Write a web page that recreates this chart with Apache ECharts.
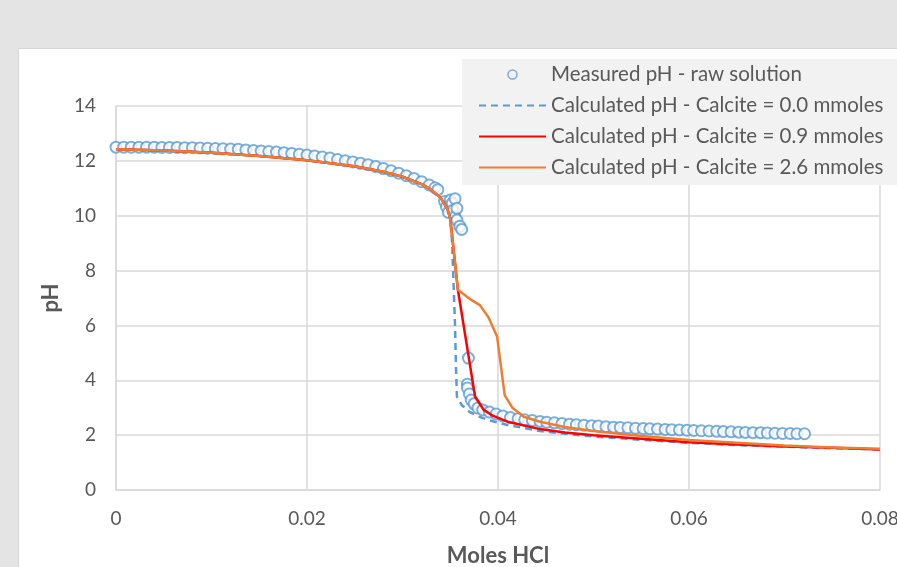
<!DOCTYPE html>
<html>
<head>
<meta charset="utf-8">
<script src="https://cdn.jsdelivr.net/npm/echarts@6/dist/echarts.min.js"></script>
<style>
  html, body { margin: 0; padding: 0; width: 897px; height: 567px; overflow: hidden; background: #e4e4e4; }
  #card { position: absolute; left: 18px; top: 48px; right: 0; bottom: 0; background: #ffffff; border-top: 1px solid #d6d6d6; border-left: 1px solid #d6d6d6; }
  #chart { position: absolute; left: 0; top: 0; width: 897px; height: 567px; }
</style>
</head>
<body>
<div id="card"></div>
<div id="chart"></div>
<script>
// Measured pH - raw solution: [moles HCl, pH]
const measured = [
  [0.0000,12.50],[0.0008,12.50],[0.0016,12.50],[0.0024,12.50],[0.0032,12.50],[0.0040,12.50],
  [0.0048,12.49],[0.0056,12.49],[0.0064,12.49],[0.0072,12.48],[0.0080,12.48],[0.0088,12.47],
  [0.0096,12.46],[0.0104,12.45],[0.0112,12.44],[0.0120,12.43],[0.0128,12.42],[0.0136,12.40],
  [0.0144,12.38],[0.0152,12.36],[0.0160,12.34],[0.0168,12.32],[0.0176,12.30],[0.0184,12.27],
  [0.0192,12.24],[0.0200,12.21],[0.0208,12.18],[0.0216,12.14],[0.0224,12.10],[0.0232,12.05],
  [0.0240,12.00],[0.0248,11.96],[0.0256,11.91],[0.0264,11.86],[0.0272,11.79],[0.0280,11.72],
  [0.0288,11.64],[0.0296,11.55],[0.0304,11.46],[0.0312,11.36],[0.0320,11.24],[0.0328,11.12],
  [0.0334,11.02],[0.0337,10.95],[0.0344,10.52],[0.0346,10.33],[0.0348,10.12],[0.0350,10.57],
  [0.0352,10.45],[0.0353,10.20],[0.0355,10.62],[0.0355,9.96],[0.0357,10.27],[0.0357,9.84],
  [0.0360,9.62],[0.0362,9.50],
  [0.0369,4.81],[0.0368,3.86],[0.0368,3.72],[0.0370,3.50],[0.0372,3.28],[0.0375,3.14],
  [0.0379,2.99],[0.0384,2.92],[0.0391,2.84],[0.0398,2.77],[0.0405,2.70],[0.0413,2.64],
  [0.0421,2.60],[0.0428,2.56],[0.0436,2.53],[0.0444,2.50],[0.0451,2.47],[0.0459,2.45],
  [0.0467,2.42],[0.0475,2.40],[0.0482,2.38],[0.0490,2.36],[0.0498,2.34],[0.0505,2.33],
  [0.0513,2.31],[0.0521,2.29],[0.0528,2.28],[0.0536,2.27],[0.0544,2.25],[0.0552,2.24],
  [0.0559,2.23],[0.0567,2.22],[0.0575,2.21],[0.0582,2.20],[0.0590,2.19],[0.0598,2.18],
  [0.0605,2.17],[0.0613,2.16],[0.0621,2.15],[0.0629,2.14],[0.0636,2.13],[0.0644,2.12],
  [0.0652,2.11],[0.0659,2.10],[0.0667,2.09],[0.0675,2.09],[0.0682,2.08],[0.0690,2.07],
  [0.0698,2.06],[0.0706,2.06],[0.0713,2.05],[0.0721,2.05]
];

// Calculated pH - Calcite = 0.0 mmoles
const calc00 = [
  [0,12.42],[0.005,12.38],[0.010,12.30],[0.015,12.18],[0.020,12.02],[0.025,11.80],
  [0.028,11.60],[0.030,11.42],[0.032,11.15],[0.033,10.95],[0.034,10.65],[0.0347,10.25],
  [0.0350,9.90],[0.0352,9.00],[0.0353,8.00],[0.0355,6.00],[0.0356,4.50],[0.0357,3.40],
  [0.0362,3.10],[0.0370,2.85],[0.0380,2.68],[0.0390,2.55],[0.0410,2.37],[0.0444,2.15],
  [0.0470,2.05],[0.0500,1.95],[0.0550,1.83],[0.0600,1.72],[0.0650,1.64],[0.0700,1.58],
  [0.0750,1.52],[0.0800,1.48]
];

// Calculated pH - Calcite = 0.9 mmoles
const calc09 = [
  [0,12.42],[0.005,12.38],[0.010,12.30],[0.015,12.18],[0.020,12.02],[0.025,11.80],
  [0.028,11.60],[0.030,11.42],[0.032,11.15],[0.033,10.95],[0.034,10.65],[0.0347,10.25],
  [0.0350,9.90],[0.0358,7.30],[0.0376,3.40],[0.0385,2.92],[0.0395,2.70],[0.0410,2.49],
  [0.0444,2.22],[0.0470,2.10],[0.0500,2.00],[0.0550,1.87],[0.0600,1.74],[0.0650,1.66],
  [0.0700,1.59],[0.0750,1.54],[0.0800,1.48]
];

// Calculated pH - Calcite = 2.6 mmoles
const calc26 = [
  [0,12.42],[0.005,12.38],[0.010,12.30],[0.015,12.18],[0.020,12.02],[0.025,11.80],
  [0.028,11.60],[0.030,11.42],[0.032,11.15],[0.033,10.95],[0.034,10.65],[0.0347,10.25],
  [0.0350,9.90],[0.0358,7.30],[0.0372,6.93],[0.0381,6.74],[0.0390,6.30],[0.0399,5.60],
  [0.0407,3.46],[0.0415,3.00],[0.0427,2.67],[0.0444,2.49],[0.0470,2.30],[0.0500,2.15],
  [0.0550,1.97],[0.0600,1.82],[0.0650,1.72],[0.0700,1.62],[0.0750,1.55],[0.0800,1.50]
];

const seriesNames = [
  'Measured pH - raw solution',
  'Calculated pH - Calcite = 0.0 mmoles',
  'Calculated pH - Calcite = 0.9 mmoles',
  'Calculated pH - Calcite = 2.6 mmoles'
];

const xTicks = [0, 0.02, 0.04, 0.06, 0.08];
const yTicks = [0, 2, 4, 6, 8, 10, 12, 14];

const FONT = 'Lato';
const TXT = '#595959';
const GRID = '#d9d9d9';
const BLUE = '#5b9bd5';
const hideSym = { opacity: 0 };

const chart = echarts.init(document.getElementById('chart'), null, { renderer: 'canvas' });
chart.setOption({
  backgroundColor: 'transparent',
  animation: false,
  grid: { left: 116, top: 106, right: 17, bottom: 77, containLabel: false, outerBoundsMode: 'none' },
  legend: {
    orient: 'vertical',
    left: 462, top: 59,
    backgroundColor: '#f2f2f2',
    padding: [5, 30, 7, 16],
    itemWidth: 67, itemHeight: 14, itemGap: 10,
    textStyle: { fontFamily: FONT, fontSize: 20.5, color: TXT, lineHeight: 21 },
    data: [
      { name: seriesNames[0], icon: 'path://M0,0M67,14M29,7A4.5,4.5,0,1,1,38,7A4.5,4.5,0,1,1,29,7Z',
        itemStyle: { color: 'rgba(0,0,0,0)', borderColor: BLUE, borderWidth: 1.5 } },
      { name: seriesNames[1], itemStyle: hideSym },
      { name: seriesNames[2], itemStyle: hideSym },
      { name: seriesNames[3], itemStyle: hideSym }
    ]
  },
  xAxis: {
    type: 'value', min: xTicks[0], max: xTicks[xTicks.length - 1], interval: 0.02,
    name: 'Moles HCl', nameLocation: 'middle', nameGap: 55,
    nameTextStyle: { fontFamily: FONT, fontSize: 22, fontWeight: 'bold', color: TXT },
    axisLine: { show: true, lineStyle: { color: GRID, width: 1.5 } },
    axisTick: { show: false },
    axisLabel: {
      fontFamily: FONT, fontSize: 19, color: TXT, margin: 19,
      formatter: v => (v === 0 ? '0' : v.toFixed(2))
    },
    splitLine: { show: true, lineStyle: { color: GRID, width: 1.5 } }
  },
  yAxis: {
    type: 'value', min: yTicks[0], max: yTicks[yTicks.length - 1], interval: 2,
    name: 'pH', nameLocation: 'middle', nameGap: 54, nameRotate: 90,
    nameTextStyle: { fontFamily: FONT, fontSize: 22, fontWeight: 'bold', color: TXT },
    axisLine: { show: true, lineStyle: { color: GRID, width: 1.5 } },
    axisTick: { show: false },
    axisLabel: { fontFamily: FONT, fontSize: 19, color: TXT, margin: 20 },
    splitLine: { show: true, lineStyle: { color: GRID, width: 1.5 } }
  },
  series: [
    {
      name: seriesNames[0], type: 'scatter', data: measured,
      symbol: 'emptyCircle', symbolSize: 11,
      itemStyle: { color: BLUE, borderColor: BLUE, borderWidth: 2 },
      z: 2
    },
    {
      name: seriesNames[1], type: 'line', data: calc00, showSymbol: false, symbol: 'none',
      lineStyle: { color: BLUE, width: 2.5, type: [7, 5] },
      itemStyle: { color: BLUE }, z: 3
    },
    {
      name: seriesNames[2], type: 'line', data: calc09, showSymbol: false, symbol: 'none',
      lineStyle: { color: '#ff0000', width: 2.5 },
      itemStyle: { color: '#ff0000' }, z: 4
    },
    {
      name: seriesNames[3], type: 'line', data: calc26, showSymbol: false, symbol: 'none',
      lineStyle: { color: '#ed7d31', width: 2.5 },
      itemStyle: { color: '#ed7d31' }, z: 5
    }
  ]
});
</script>
</body>
</html>
